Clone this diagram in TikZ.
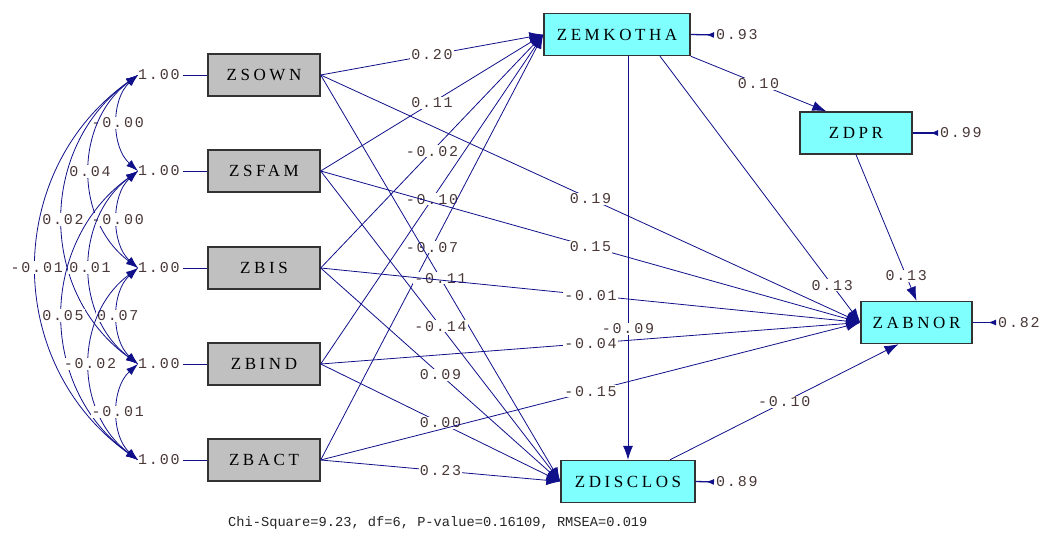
\documentclass[tikz,border=0pt]{standalone}
\usepackage{fontspec}
\usetikzlibrary{arrows.meta,calc}
\newfontfamily\boxfont[LetterSpace=21]{Liberation Serif}
\newfontfamily\numfont[LetterSpace=12]{Liberation Mono}
\newfontfamily\fitfont{Liberation Mono}
\definecolor{pathblue}{HTML}{10108A}
\definecolor{labgray}{HTML}{4A3838}
\definecolor{exofill}{HTML}{C0C0C0}
\definecolor{endofill}{HTML}{80FFFF}
\begin{document}
\begin{tikzpicture}[x=1pt,y=-1pt,
  varbox/.style={draw=black!80, line width=1.4pt, minimum height=42pt,
    inner sep=0pt, font=\boxfont\fontsize{17}{17}\selectfont},
  exo/.style={varbox, fill=exofill, minimum width=112pt},
  endo/.style={varbox, fill=endofill},
  lab/.style={font=\numfont\fontsize{15}{15}\selectfont, text=labgray,
    fill=white, inner sep=1pt},
  free/.style={font=\numfont\fontsize{15}{15}\selectfont, text=labgray,
    inner sep=0pt},
  gline/.style={draw=pathblue, line width=0.8pt,
    -{Latex[length=14pt,width=10pt]}},
  cline/.style={draw=pathblue, line width=0.8pt,
    {Latex[length=12pt,width=8pt]}-{Latex[length=12pt,width=8pt]}},
  eline/.style={draw=pathblue, line width=1.3pt,
    -{Latex[reversed,length=8pt,width=6pt]}},
  vline/.style={draw=pathblue, line width=0.8pt},
]
\useasboundingbox (0,0) rectangle (1043,535);
\fill[white] (0,0) rectangle (1043,535);

% exogenous variables
\node[exo] (X1) at (264,75)  {ZSOWN};
\node[exo] (X2) at (264,171) {ZSFAM};
\node[exo] (X3) at (264,268) {ZBIS};
\node[exo] (X4) at (264,364) {ZBIND};
\node[exo] (X5) at (264,460) {ZBACT};

% endogenous variables
\node[endo, minimum width=146pt] (EM) at (617,34.5)  {ZEMKOTHA};
\node[endo, minimum width=112pt] (DP) at (856,133)   {ZDPR};
\node[endo, minimum width=111pt] (AB) at (916.5,322.5) {ZABNOR};
\node[endo, minimum width=134pt] (DI) at (628,481.5) {ZDISCLOS};

% variances of the exogenous variables
\node[free, anchor=west] (V1) at (138,75)  {1.00};
\node[free, anchor=west] (V2) at (138,171) {1.00};
\node[free, anchor=west] (V3) at (138,268) {1.00};
\node[free, anchor=west] (V4) at (138,364) {1.00};
\node[free, anchor=west] (V5) at (138,460) {1.00};
\foreach \i in {1,...,5}
  \draw[vline, shorten <=3pt] (V\i.east) -- (X\i.west);

% covariances among the exogenous variables
\draw[cline] (V1.west) .. controls (111,99)  and (111,147) .. node[lab]{-0.00} (V2.west);
\draw[cline] (V1.west) .. controls (74,123)  and (74,220)  .. node[lab]{0.04}  (V3.west);
\draw[cline] (V1.west) .. controls (38,147)  and (38,292)  .. node[lab]{0.02}  (V4.west);
\draw[cline] (V1.west) .. controls (3,171)   and (3,364)   .. node[lab]{-0.01} (V5.west);
\draw[cline] (V2.west) .. controls (111,195) and (111,244) .. node[lab]{-0.00} (V3.west);
\draw[cline] (V2.west) .. controls (74,219)  and (74,316)  .. node[lab]{0.01}  (V4.west);
\draw[cline] (V2.west) .. controls (38,243)  and (38,388)  .. node[lab]{0.05}  (V5.west);
\draw[cline] (V3.west) .. controls (111,292) and (111,340) .. node[lab]{0.07}  (V4.west);
\draw[cline] (V3.west) .. controls (74,316)  and (74,412)  .. node[lab]{-0.02} (V5.west);
\draw[cline] (V4.west) .. controls (111,388) and (111,436) .. node[lab]{-0.01} (V5.west);

% effects on ZEMKOTHA
\draw[gline] (X1.east) -- node[lab]{0.20}  (EM.west);
\draw[gline] (X2.east) -- node[lab]{0.11}  (EM.west);
\draw[gline] (X3.east) -- node[lab]{-0.02} (EM.west);
\draw[gline] (X4.east) -- node[lab]{-0.10} (EM.west);
\draw[gline] (X5.east) -- node[lab]{-0.07} (EM.west);

% effects on ZDISCLOS
\draw[gline] (X1.east) -- node[lab]{-0.11} (DI.west);
\draw[gline] (X2.east) -- node[lab]{-0.14} (DI.west);
\draw[gline] (X3.east) -- node[lab]{0.09}  (DI.west);
\draw[gline] (X4.east) -- node[lab]{0.00}  (DI.west);
\draw[gline] (X5.east) -- node[lab]{0.23}  (DI.west);

% effects on ZABNOR
\draw[gline] (X1.east) -- node[lab]{0.19}  (AB.west);
\draw[gline] (X2.east) -- node[lab]{0.15}  (AB.west);
\draw[gline] (X3.east) -- node[lab]{-0.01} (AB.west);
\draw[gline] (X4.east) -- node[lab]{-0.04} (AB.west);
\draw[gline] (X5.east) -- node[lab]{-0.15} (AB.west);

% effects among the endogenous variables
\draw[gline] (EM.south -| DI.north) -- node[lab, pos=0.675]{-0.09} (DI.north);
\draw[gline] ($(EM.south)+(43,0)$) -- node[lab, pos=0.86]{0.13} (AB.west);
\draw[gline] (EM.south east) -- node[lab]{0.10} ($(DP.north west)+(27,0)$);
\draw[gline] (DP.south) -- node[lab, pos=0.83]{0.13} (AB.north);
\draw[gline] ($(DI.north)+(42,0)$) -- node[lab]{-0.10} ($(AB.south)+(-18,0)$);

% error variances
\node[free, anchor=west] (E1) at (716,35)  {0.93};
\node[free, anchor=west] (E2) at (940,133) {0.99};
\node[free, anchor=west] (E3) at (998,322.5) {0.82};
\node[free, anchor=west] (E4) at (716,482) {0.89};
\draw[eline, shorten >=2pt] (EM.east) -- (E1.west);
\draw[eline, shorten >=2pt] (DP.east) -- (E2.west);
\draw[eline, shorten >=2pt] (AB.east) -- (E3.west);
\draw[eline, shorten >=2pt] (DI.east) -- (E4.west);

% fit statistics
\node[font=\fitfont\fontsize{13.7}{14}\selectfont, text=black!85, anchor=west, inner sep=0pt]
  (fit) at (228,523) {Chi-Square=9.23, df=6, P-value=0.16109, RMSEA=0.019};
\end{tikzpicture}
\end{document}
